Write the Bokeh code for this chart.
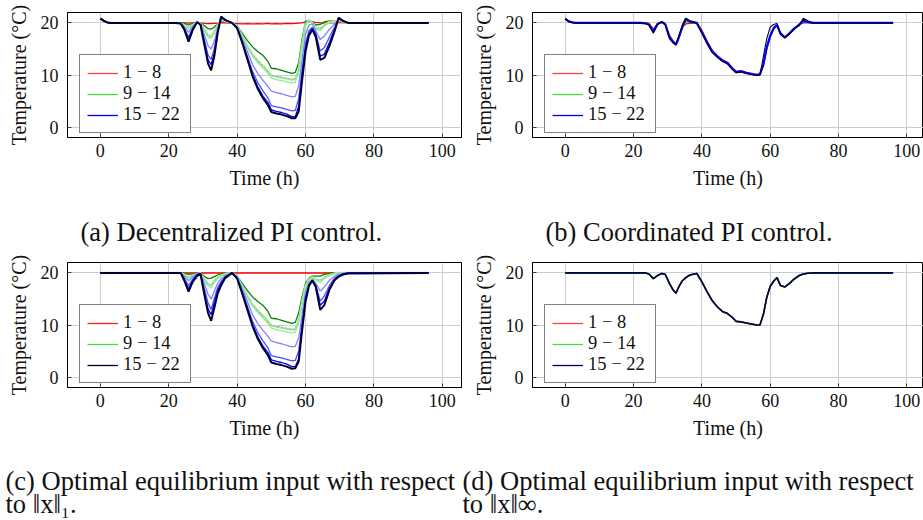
from bokeh.plotting import figure
from bokeh.models import Range1d, FixedTicker, Legend, LegendItem
from bokeh.layouts import column, row
from bokeh.embed import file_html
from bokeh.resources import INLINE
from bokeh.core.properties import value

FONT = "Liberation Serif"

# ---------------- data (time in h, temperature in degC) ----------------
t = [0, 0.4, 1, 2, 3, 22, 23.5, 24.5, 25.8, 27, 28.3, 29.3, 30.5, 31.5, 32.4,
     33.3, 34.3, 35.3, 36.5, 38.5, 40, 41.5, 43, 44.5, 46, 47.5, 49, 50, 51.5, 53,
     54.5, 56, 57, 58, 59, 60, 61, 62, 63, 64.3, 65.5, 67, 68.5, 69.7, 71, 72.5, 96]

# (a) decentralized PI control
red_a = [20.8, 20.7, 20.4, 20.1, 20.0, 20.0, 20.0, 20.0, 19.95, 20.0, 20.05, 20.0, 19.9, 19.85, 19.85,
         19.9, 19.95, 20.05, 20.0, 19.9, 19.85, 19.8, 19.85, 19.8, 19.85, 19.8, 19.9, 19.8, 19.85, 19.8,
         19.9, 19.85, 19.9, 19.95, 20.0, 20.2, 20.25, 20.2, 20.1, 20.0, 20.0, 20.05, 20.0, 20.1, 20.0, 20.0, 20.0]
g1_a = [20.8, 20.7, 20.4, 20.1, 20.0, 20.0, 20.0, 19.9, 19.6, 19.9, 20.1, 20.0, 19.4, 18.9, 18.8,
        19.2, 19.8, 20.4, 20.3, 20.0, 19.4, 18.0, 16.6, 15.4, 14.5, 13.8, 12.6, 11.3, 11.2, 10.9,
        10.6, 10.3, 10.5, 12.3, 17.0, 20.3, 20.5, 20.2, 19.6, 19.7, 20.2, 20.4, 20.3, 20.5, 20.2, 20.0, 20.0]
g2_a = [20.8, 20.7, 20.4, 20.1, 20.0, 20.0, 19.9, 19.6, 19.0, 19.6, 20.1, 19.9, 18.6, 17.6, 17.4,
        18.3, 19.6, 20.6, 20.4, 20.0, 19.3, 17.5, 15.5, 13.9, 12.8, 11.8, 10.7, 9.9, 9.7, 9.5,
        9.3, 9.1, 9.2, 11.0, 15.8, 19.8, 20.5, 20.0, 19.0, 18.9, 19.6, 20.2, 20.2, 20.5, 20.2, 20.0, 20.0]
g3_a = [20.8, 20.7, 20.4, 20.1, 20.0, 20.0, 19.9, 19.5, 18.8, 19.5, 20.1, 19.9, 18.3, 17.2, 17.0,
        18.0, 19.5, 20.6, 20.4, 20.0, 19.3, 17.4, 15.3, 13.6, 12.4, 11.4, 10.3, 9.4, 9.1, 8.9,
        8.7, 8.5, 8.6, 10.6, 15.5, 19.6, 20.4, 20.0, 18.8, 18.5, 19.4, 20.1, 20.2, 20.5, 20.2, 20.0, 20.0]
b1_a = [20.8, 20.7, 20.4, 20.1, 20.0, 20.0, 19.9, 19.3, 18.2, 19.3, 20.1, 19.8, 17.5, 15.6, 15.0,
        16.5, 19.0, 20.8, 20.5, 20.0, 19.2, 16.9, 14.5, 12.0, 10.3, 9.0, 7.8, 6.9, 6.6, 6.4,
        6.1, 5.8, 5.9, 8.0, 13.0, 17.8, 19.6, 19.8, 18.5, 16.8, 17.5, 18.8, 19.8, 20.7, 20.3, 20.0, 20.0]
b2_a = [20.8, 20.7, 20.4, 20.1, 20.0, 20.0, 19.9, 19.0, 17.3, 19.0, 20.1, 19.7, 16.5, 13.8, 13.0,
        15.0, 18.6, 21.0, 20.5, 20.0, 19.1, 16.5, 13.6, 10.7, 8.6, 7.0, 5.6, 4.1, 3.9, 3.7,
        3.4, 3.1, 3.2, 5.5, 11.0, 16.0, 18.5, 19.2, 18.0, 14.6, 15.3, 17.3, 19.2, 20.9, 20.3, 20.0, 20.0]
b3_a = [20.8, 20.7, 20.4, 20.1, 20.0, 20.0, 19.9, 18.9, 16.8, 18.8, 20.2, 19.6, 16.0, 12.9, 12.0,
        14.2, 18.3, 21.1, 20.6, 20.0, 19.0, 16.3, 13.2, 10.1, 7.8, 6.0, 4.7, 3.3, 3.0, 2.8,
        2.5, 2.0, 2.0, 4.0, 10.0, 15.4, 18.0, 18.9, 17.6, 13.6, 14.0, 16.3, 18.8, 21.0, 20.4, 20.0, 20.0]
k_a = [20.8, 20.7, 20.4, 20.1, 20.0, 20.0, 19.9, 18.8, 16.4, 18.6, 20.2, 19.6, 15.5, 12.2, 10.9,
       13.5, 18.0, 21.2, 20.6, 20.0, 19.0, 16.2, 13.0, 9.8, 7.4, 5.6, 4.2, 2.9, 2.6, 2.4,
       2.1, 1.7, 1.7, 3.0, 9.0, 14.5, 17.6, 18.7, 17.3, 12.9, 13.3, 15.6, 18.4, 21.0, 20.4, 20.0, 20.0]

# (b) coordinated PI control
red_b = [20.8, 20.6, 20.3, 20.1, 20.0, 20.0, 20.0, 19.9, 18.8, 19.8, 20.1, 19.8, 17.6, 16.6, 16.0,
         17.4, 19.2, 19.8, 19.9, 20.0, 18.6, 16.5, 14.7, 13.7, 12.9, 12.4, 11.3, 10.7, 10.8, 10.5,
         10.3, 10.1, 10.2, 11.8, 15.0, 17.3, 18.8, 19.5, 18.1, 17.3, 17.9, 18.8, 19.8, 20.0, 20.0, 20.0, 20.0]
green_b = [20.8, 20.6, 20.3, 20.1, 20.0, 20.0, 19.95, 19.8, 18.5, 19.8, 20.2, 19.7, 17.4, 16.5, 15.9,
           17.3, 19.2, 20.3, 20.1, 20.0, 18.4, 16.4, 14.6, 13.6, 12.8, 12.3, 11.2, 10.6, 10.7, 10.4,
           10.2, 10.0, 10.1, 11.9, 15.2, 17.4, 18.9, 19.5, 18.0, 17.2, 17.9, 18.9, 19.7, 20.2, 20.1, 20.0, 20.0]
blue_b = [20.8, 20.6, 20.3, 20.1, 20.0, 20.0, 19.9, 19.7, 18.3, 19.8, 20.2, 19.7, 17.3, 16.4, 15.8,
          17.3, 19.3, 20.8, 20.3, 20.0, 18.2, 16.3, 14.6, 13.6, 12.8, 12.3, 11.2, 10.6, 10.7, 10.4,
          10.2, 10.0, 10.1, 12.0, 15.3, 17.5, 19.0, 19.6, 18.0, 17.2, 17.9, 18.9, 19.6, 20.4, 20.2, 20.0, 20.0]
k_b = [20.8, 20.6, 20.3, 20.1, 20.0, 20.0, 19.9, 19.6, 18.0, 19.7, 20.2, 19.6, 17.0, 16.2, 15.8,
       17.6, 19.6, 20.9, 20.3, 20.0, 18.0, 16.0, 14.3, 13.4, 12.6, 12.1, 11.0, 10.4, 10.6, 10.3,
       10.1, 9.9, 10.0, 13.5, 17.0, 19.2, 19.7, 19.9, 17.8, 17.1, 17.8, 18.8, 19.6, 20.9, 20.4, 20.0, 20.0]

# (c) optimal equilibrium input, ||x||_1
red_c = [20.0, 20.0, 20.0, 20.0, 20.0, 20.0, 20.0, 20.0, 20.0, 20.0, 20.0, 20.0, 20.0, 20.0, 20.0,
         20.0, 20.0, 20.0, 20.0, 20.0, 20.0, 20.0, 20.0, 20.0, 20.0, 20.0, 20.0, 20.0, 20.0, 20.0,
         20.0, 20.0, 20.0, 20.0, 20.0, 20.0, 20.0, 20.0, 20.0, 20.0, 20.0, 20.0, 20.0, 20.0, 20.0, 20.0, 20.0]
g1_c = [20.0, 20.0, 20.0, 20.0, 20.0, 20.0, 20.0, 19.9, 19.7, 19.8, 19.9, 20.0, 19.3, 18.9, 19.0,
        19.3, 19.6, 19.8, 19.9, 20.0, 19.4, 18.0, 16.6, 15.4, 14.5, 13.8, 12.6, 11.3, 11.2, 10.9,
        10.6, 10.3, 10.5, 12.3, 15.5, 18.0, 19.0, 19.4, 19.4, 19.4, 19.7, 19.9, 20.0, 20.0, 20.0, 20.0, 20.0]
g2_c = [20.0, 20.0, 20.0, 20.0, 20.0, 20.0, 20.0, 19.7, 19.2, 19.5, 19.8, 19.9, 18.7, 17.9, 17.6,
        18.4, 19.1, 19.5, 19.8, 20.0, 19.3, 17.5, 15.5, 13.9, 12.8, 11.8, 10.7, 9.9, 9.7, 9.5,
        9.3, 9.1, 9.2, 10.8, 14.5, 17.5, 18.8, 19.2, 18.8, 18.5, 19.1, 19.6, 19.9, 20.0, 20.0, 20.0, 20.0]
g3_c = [20.0, 20.0, 20.0, 20.0, 20.0, 20.0, 20.0, 19.6, 19.0, 19.4, 19.8, 19.9, 18.4, 17.5, 17.1,
        18.1, 18.9, 19.4, 19.8, 20.0, 19.3, 17.4, 15.3, 13.6, 12.4, 11.4, 10.3, 9.4, 9.1, 8.9,
        8.7, 8.5, 8.6, 10.4, 14.2, 17.3, 18.7, 19.1, 18.6, 18.1, 18.9, 19.5, 19.9, 20.0, 20.0, 20.0, 20.0]
b1_c = [20.0, 20.0, 20.0, 20.0, 20.0, 20.0, 20.0, 19.4, 18.5, 19.2, 19.8, 19.9, 17.8, 15.9, 15.0,
        16.5, 18.0, 18.9, 19.5, 20.0, 19.2, 16.9, 14.5, 12.0, 10.3, 9.0, 7.8, 6.9, 6.6, 6.4,
        6.1, 5.8, 5.9, 7.5, 12.0, 16.3, 18.2, 18.7, 18.0, 16.5, 17.3, 18.6, 19.4, 19.7, 19.9, 20.0, 20.0]
b2_c = [20.0, 20.0, 20.0, 20.0, 20.0, 20.0, 20.0, 19.0, 17.5, 18.8, 19.7, 19.8, 16.8, 14.2, 13.0,
        15.0, 17.2, 18.3, 19.3, 20.0, 19.1, 16.5, 13.6, 10.7, 8.6, 7.0, 5.6, 4.1, 3.9, 3.7,
        3.4, 3.1, 3.2, 5.0, 10.5, 15.5, 17.8, 18.6, 17.6, 14.6, 15.6, 17.6, 19.0, 19.5, 19.8, 20.0, 20.0]
b3_c = [20.0, 20.0, 20.0, 20.0, 20.0, 20.0, 20.0, 18.8, 16.9, 18.5, 19.7, 19.8, 16.0, 13.1, 12.0,
        14.2, 16.6, 18.0, 19.2, 20.0, 19.0, 16.3, 13.2, 10.1, 7.8, 6.0, 4.7, 3.3, 3.0, 2.8,
        2.5, 2.0, 2.0, 3.5, 9.5, 15.0, 17.6, 18.6, 17.4, 13.8, 14.6, 17.1, 18.8, 19.4, 19.8, 20.0, 20.0]
k_c = [20.0, 20.0, 20.0, 20.0, 20.0, 20.0, 20.0, 18.6, 16.4, 18.3, 19.4, 19.8, 15.5, 12.3, 10.8,
       13.2, 16.0, 17.6, 19.0, 20.0, 18.9, 16.0, 12.9, 9.8, 7.4, 5.6, 4.2, 2.8, 2.5, 2.3,
       2.0, 1.6, 1.7, 3.0, 9.0, 14.5, 17.5, 18.6, 17.3, 12.9, 13.8, 16.8, 18.6, 19.3, 19.7, 19.9, 20.0]

# (d) optimal equilibrium input, ||x||_inf (all zones coincide)
all_d = [20.0, 20.0, 20.0, 20.0, 20.0, 20.0, 20.0, 19.8, 18.9, 19.5, 19.9, 19.7, 18.0, 16.8, 16.1,
         17.4, 18.5, 19.1, 19.6, 19.9, 18.3, 16.4, 14.7, 13.5, 12.6, 12.2, 11.4, 10.7, 10.6, 10.4,
         10.2, 10.0, 10.0, 12.0, 15.3, 17.4, 18.4, 19.1, 17.6, 17.3, 17.9, 18.8, 19.5, 19.8, 19.95, 20.0, 20.0]

legend_labels = ["1 \u2212 8", "9 \u2212 14", "15 \u2212 22"]
x_ticks = [0, 20, 40, 60, 80, 100]
y_ticks = [0, 10, 20]
x_label = "Time (h)"
y_label = "Temperature (\u00b0C)"
captions_top = ["(a) Decentralized PI control.", "(b) Coordinated PI control."]
captions_bottom = ["(c) Optimal equilibrium input with respect", "to \u2016x\u2016\u2081.",
                   "(d) Optimal equilibrium input with respect", "to \u2016x\u2016\u221e."]

TEXT_COLOR = "#111111"


def make_panel(width, left, right, top, x_end):
    p = figure(width=width, height=top + 125 + 54, output_backend="svg", toolbar_location=None,
               x_range=Range1d(-9.6, x_end), y_range=Range1d(-2.0, 22.0),
               min_border_left=left, min_border_right=right,
               min_border_top=top, min_border_bottom=54)
    p.background_fill_color = "white"
    p.border_fill_color = "white"
    p.outline_line_color = "black"
    p.outline_line_width = 1
    p.xaxis.ticker = FixedTicker(ticks=x_ticks)
    p.yaxis.ticker = FixedTicker(ticks=y_ticks)
    p.xaxis.axis_label = x_label
    p.yaxis.axis_label = y_label
    for ax in p.xaxis + p.yaxis:
        ax.axis_label_text_font = FONT
        ax.axis_label_text_font_size = "20px"
        ax.axis_label_text_font_style = "normal"
        ax.axis_label_text_color = TEXT_COLOR
        ax.major_label_text_font = FONT
        ax.major_label_text_font_size = "18px"
        ax.major_label_text_color = TEXT_COLOR
        ax.major_tick_in = 4
        ax.major_tick_out = 0
        ax.minor_tick_line_color = None
        ax.major_tick_line_color = "#444444"
        ax.axis_line_color = "black"
    p.xaxis.major_label_standoff = 6
    p.xaxis.axis_label_standoff = 7
    p.yaxis.major_label_standoff = 9
    p.yaxis.axis_label_standoff = 8
    p.grid.grid_line_color = "#cccccc"
    p.grid.grid_line_width = 1
    return p


def add_legend(p, colors):
    # one-point proxy lines: they draw nothing in the frame, only the legend sample
    proxies = [p.line(x=[t[0]], y=[red_c[0]], line_color=c, line_width=1.3) for c in colors]
    items = [LegendItem(label=lab, renderers=[r]) for lab, r in zip(legend_labels, proxies)]
    leg = Legend(items=items, location=(12, 4))
    leg.label_text_font = FONT
    leg.label_text_font_size = "18.5px"
    leg.label_text_color = TEXT_COLOR
    leg.border_line_color = "black"
    leg.border_line_width = 1
    leg.background_fill_color = "white"
    leg.background_fill_alpha = 1
    leg.padding = 7
    leg.spacing = 0
    leg.glyph_width = 31
    leg.glyph_height = 20
    leg.label_height = 20
    leg.label_width = 60
    leg.label_standoff = 5
    leg.margin = 0
    p.add_layout(leg)


def draw_series(p, series):
    for ys, color, lw, dash in series:
        p.line(t, ys, line_color=color, line_width=lw, line_dash=dash)


# ---- panel (a)
pa = make_panel(466, 67, 5, 12, 105.6)
draw_series(pa, [
    (red_a, "#ff0000", 1.3, "solid"),
    (g1_a, "#008000", 1.3, "solid"),
    (g2_a, "#a0eca0", 2.2, "solid"),
    (g2_a, "#b0b0b0", 1.2, "2 2"),
    (g3_a, "#90ee90", 1.3, "solid"),
    (b1_a, "#8080ff", 1.3, "solid"),
    (b2_a, "#4d4dff", 1.3, "solid"),
    (b3_a, "#0000ff", 1.3, "solid"),
    (k_a, "#000033", 2.0, "solid"),
])
add_legend(pa, ["#ff4040", "#40e040", "#0000ff"])

# ---- panel (b)
pb = make_panel(457, 66, 0, 12, 104.9)
draw_series(pb, [
    (red_b, "#ff0000", 1.3, "solid"),
    (green_b, "#00c000", 1.3, "solid"),
    (blue_b, "#0000ff", 2.2, "solid"),
    (k_b, "#000033", 1.1, "solid"),
])
add_legend(pb, ["#ff4040", "#40e040", "#0000ff"])

# ---- panel (c)
pc = make_panel(466, 67, 5, 9, 105.6)
draw_series(pc, [
    (red_c, "#ff0000", 1.5, "solid"),
    (g1_c, "#008000", 1.3, "solid"),
    (g2_c, "#a0eca0", 2.2, "solid"),
    (g2_c, "#b0b0b0", 1.2, "2 2"),
    (g3_c, "#90ee90", 1.3, "solid"),
    (b1_c, "#8080ff", 1.3, "solid"),
    (b2_c, "#4d4dff", 1.3, "solid"),
    (b3_c, "#0000ff", 1.3, "solid"),
    (k_c, "#000033", 2.0, "solid"),
])
add_legend(pc, ["#ff2020", "#40e040", "#000033"])

# ---- panel (d)
pd_ = make_panel(457, 66, 0, 9, 104.9)
draw_series(pd_, [
    (all_d, "#ff0000", 1.5, "solid"),
    (all_d, "#00c000", 1.5, "solid"),
    (all_d, "#00004d", 1.6, "solid"),
])
add_legend(pd_, ["#ff4040", "#40e040", "#000066"])


def caption_fig(height):
    c = figure(width=923, height=height, output_backend="svg", toolbar_location=None,
               x_range=Range1d(0, 923), y_range=Range1d(0, height),
               x_axis_type=None, y_axis_type=None, min_border=0)
    c.outline_line_color = None
    c.background_fill_color = "white"
    c.border_fill_color = "white"
    c.grid.visible = False
    return c


cap1 = caption_fig(62)
cap1.text(x=[80, 545], y=[22, 22], text=captions_top,
          text_font=value(FONT), text_font_size=value("26.5px"),
          text_color=TEXT_COLOR, text_baseline="middle", text_align="left")

cap2 = caption_fig(79)
cap2.text(x=[5, 5, 462, 462], y=[40, 17, 40, 17], text=captions_bottom,
          text_font=value(FONT), text_font_size=value("26.5px"),
          text_color=TEXT_COLOR, text_baseline="middle", text_align="left")

layout = column(row(pa, pb), cap1, row(pc, pd_), cap2)

open("out.html", "w").write(file_html(layout, INLINE))
